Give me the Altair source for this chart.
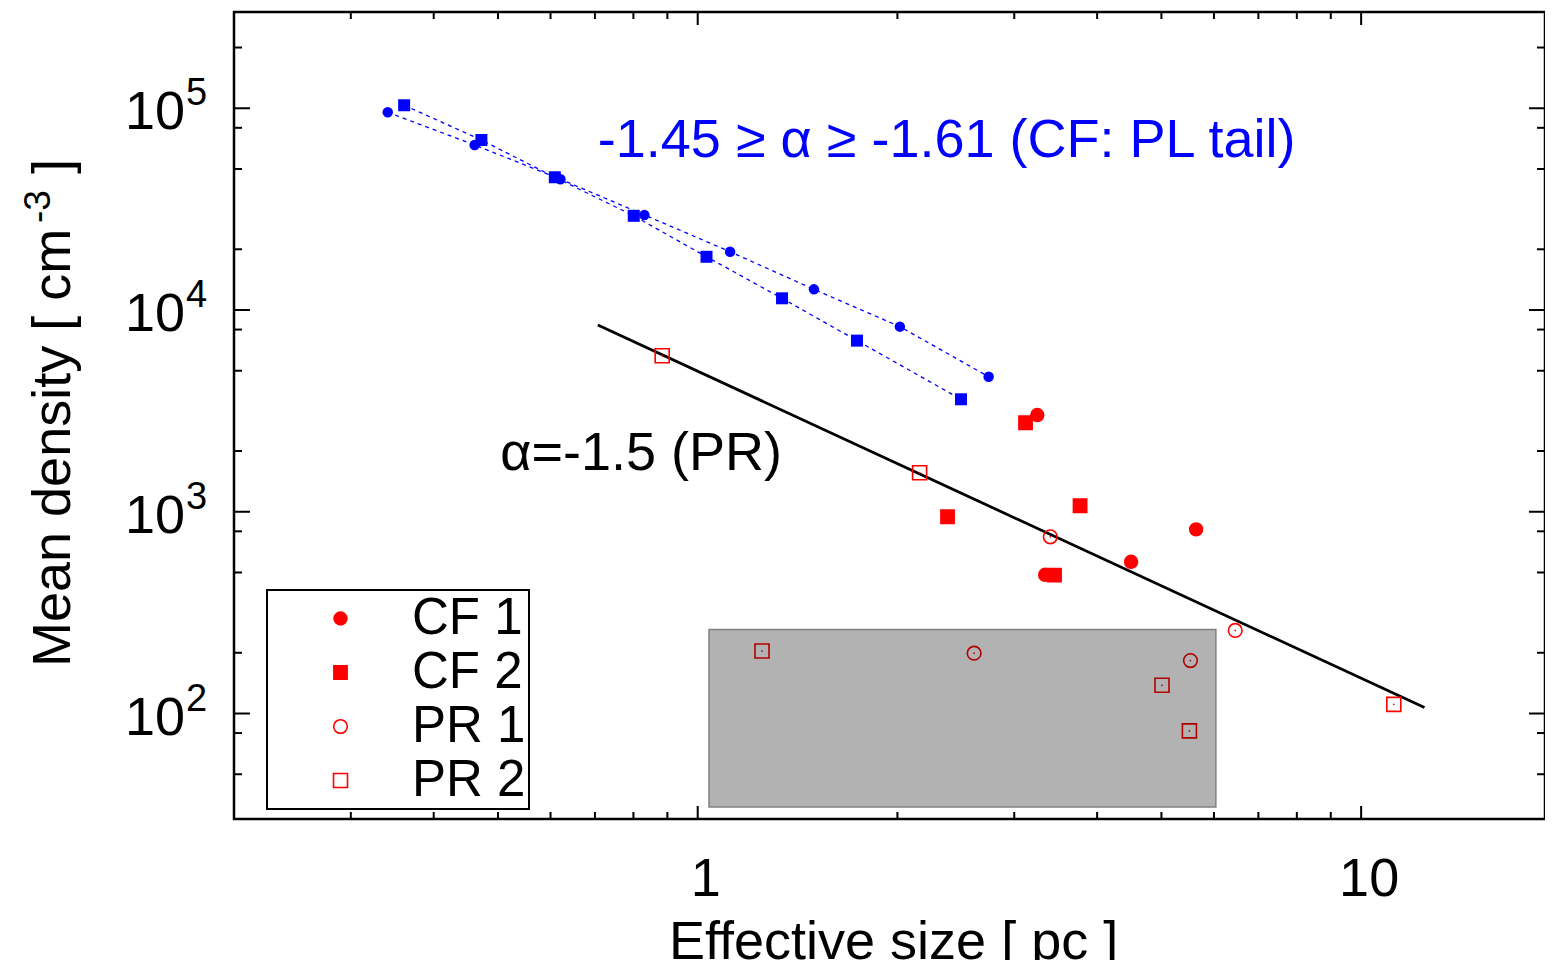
import altair as alt
import pandas as pd

# ---------------- data ----------------
# power-law-tail points (blue, connected)
pl_cf1_size = [0.341, 0.461, 0.621, 0.831, 1.119, 1.497, 2.017, 2.745]
pl_cf1_dens = [9.55e4, 6.58e4, 4.45e4, 2.96e4, 1.945e4, 1.266e4, 8.27e3, 4.67e3]
pl_cf2_size = [0.361, 0.472, 0.609, 0.801, 1.031, 1.340, 1.738, 2.494]
pl_cf2_dens = [1.035e5, 6.96e4, 4.55e4, 2.93e4, 1.836e4, 1.143e4, 7.05e3, 3.61e3]

# red symbols
cf1_size = [3.25, 3.34, 4.50, 5.64]
cf1_dens = [3016, 487, 565, 818]
cf2_size = [3.12, 2.38, 3.45, 3.77]
cf2_dens = [2762, 945, 485, 1071]
pr1_size = [3.40, 6.46, 2.61, 5.53]
pr1_dens = [751, 258, 199, 183]
pr2_size = [0.884, 2.16, 11.2, 1.25, 5.01, 5.51]
pr2_dens = [5934, 1561, 111, 204, 138, 82]

series_names = ["CF 1", "CF 2", "PR 1", "PR 2"]

# alpha = -1.5 reference line (end points)
pr_fit_size = [0.707, 12.46]
pr_fit_dens = [8430, 107]

# shaded region
box_size = [1.04, 6.04]
box_dens = [34.4, 261]

# annotations
ann_text = ["-1.45 \u2265 \u03b1 \u2265 -1.61 (CF: PL tail)", "\u03b1=-1.5 (PR)"]
ann_size = [0.707, 0.504]
ann_dens = [5.74e4, 1609]
ann_color = ["#0000ff", "#000000"]

# axes
x_domain = [0.2, 18.93]
y_domain = [30, 3e5]
x_major = [1, 10]
x_major_labels = ["1", "10"]
x_minor = [0.3, 0.4, 0.5, 0.6, 0.7, 0.8, 0.9, 2, 3, 4, 5, 6, 7, 8, 9]
y_major = [1e2, 1e3, 1e4, 1e5]
y_major_exp = ["2", "3", "4", "5"]
y_minor = [50, 80, 200, 500, 800, 2e3, 5e3, 8e3, 2e4, 5e4, 8e4, 2e5]

# ---------------- chart ----------------
W, H = 1311, 807
FONT = "Liberation Sans"
FS = 54

xs = alt.Scale(type="log", domain=x_domain, nice=False)
ys = alt.Scale(type="log", domain=y_domain, nice=False)


def X(f):
    return alt.X(f, type="quantitative", scale=xs, axis=None)


def Y(f):
    return alt.Y(f, type="quantitative", scale=ys, axis=None)


pl1 = pd.DataFrame({"s": pl_cf1_size, "d": pl_cf1_dens})
pl2 = pd.DataFrame({"s": pl_cf2_size, "d": pl_cf2_dens})

red_rows = []
for name, ss, dd in zip(series_names, [cf1_size, cf2_size, pr1_size, pr2_size],
                        [cf1_dens, cf2_dens, pr1_dens, pr2_dens]):
    for s, d in zip(ss, dd):
        red_rows.append({"s": s, "d": d, "series": name})
red = pd.DataFrame(red_rows)
pr_only = red[red["series"].isin(["PR 1", "PR 2"])]

fit = pd.DataFrame({"s": pr_fit_size, "d": pr_fit_dens})
box = pd.DataFrame({"s0": [box_size[0]], "s1": [box_size[1]],
                    "d0": [box_dens[0]], "d1": [box_dens[1]]})
ann = pd.DataFrame({"s": ann_size, "d": ann_dens, "t": ann_text, "c": ann_color})

blue_lines = alt.layer(
    alt.Chart(pl1).mark_line(color="#0000ff", strokeDash=[4, 4], strokeWidth=1.3).encode(x=X("s"), y=Y("d")),
    alt.Chart(pl2).mark_line(color="#0000ff", strokeDash=[4, 4], strokeWidth=1.3).encode(x=X("s"), y=Y("d")),
)
blue_pts = alt.layer(
    alt.Chart(pl1).mark_point(shape="circle", filled=True, size=110, color="#0000ff", opacity=1).encode(x=X("s"), y=Y("d")),
    alt.Chart(pl2).mark_point(shape="square", filled=True, size=144, color="#0000ff", opacity=1).encode(x=X("s"), y=Y("d")),
)

fit_line = alt.Chart(fit).mark_line(color="black", strokeWidth=2.8).encode(x=X("s"), y=Y("d"))

legend = alt.Legend(orient="none", legendX=33, legendY=578, title=None,
                    strokeColor="black", fillColor="white",
                    padding=3, labelFont=FONT, labelFontSize=51, labelColor="black",
                    symbolOffset=45, labelOffset=46, rowPadding=2,
                    symbolStrokeWidth=1.6,
                    labelExpr="datum.label + '\u00a0'")

red_pts = alt.Chart(red).mark_point(strokeWidth=1.6, opacity=1).encode(
    x=X("s"), y=Y("d"),
    shape=alt.Shape("series:N", scale=alt.Scale(domain=series_names,
                                                range=["circle", "square", "circle", "square"]),
                    legend=legend),
    fill=alt.Fill("series:N", scale=alt.Scale(domain=series_names,
                                              range=["#ff0000", "#ff0000", "transparent", "transparent"]),
                  legend=legend),
    stroke=alt.Stroke("series:N", scale=alt.Scale(domain=series_names,
                                                  range=["#ff0000", "#ff0000", "#ff0000", "#ff0000"]),
                      legend=legend),
    size=alt.Size("series:N", scale=alt.Scale(domain=series_names, range=[165, 196, 165, 196]),
                  legend=legend),
)
dots = alt.Chart(pr_only).mark_point(shape="circle", filled=True, size=3, color="#ff0000", opacity=1).encode(
    x=X("s"), y=Y("d"))

shade = alt.Chart(box).mark_rect(fill="black", fillOpacity=0.3, stroke="#808080", strokeWidth=1.5).encode(
    x=X("s0"), x2="s1", y=Y("d0"), y2="d1")

annot = alt.Chart(ann).mark_text(align="left", baseline="alphabetic", fontSize=FS, font=FONT).encode(
    x=X("s"), y=Y("d"), text="t:N", color=alt.Color("c:N", scale=None))

# ticks (inward on all four sides)
xmaj = pd.DataFrame({"v": x_major, "t": x_major_labels})
xmin = pd.DataFrame({"v": x_minor})
ymaj = pd.DataFrame({"v": y_major, "b": ["10"] * len(y_major), "e": y_major_exp})
ymin = pd.DataFrame({"v": y_minor})

tick_style = dict(color="black", strokeWidth=2)
ticks = alt.layer(
    alt.Chart(xmaj).mark_rule(**tick_style).encode(x=X("v"), y=alt.value(H), y2=alt.value(H - 13)),
    alt.Chart(xmaj).mark_rule(**tick_style).encode(x=X("v"), y=alt.value(0), y2=alt.value(13)),
    alt.Chart(xmin).mark_rule(**tick_style).encode(x=X("v"), y=alt.value(H), y2=alt.value(H - 7)),
    alt.Chart(xmin).mark_rule(**tick_style).encode(x=X("v"), y=alt.value(0), y2=alt.value(7)),
    alt.Chart(ymaj).mark_rule(**tick_style).encode(y=Y("v"), x=alt.value(0), x2=alt.value(16)),
    alt.Chart(ymaj).mark_rule(**tick_style).encode(y=Y("v"), x=alt.value(W), x2=alt.value(W - 16)),
    alt.Chart(ymin).mark_rule(**tick_style).encode(y=Y("v"), x=alt.value(0), x2=alt.value(8)),
    alt.Chart(ymin).mark_rule(**tick_style).encode(y=Y("v"), x=alt.value(W), x2=alt.value(W - 8)),
)

labels = alt.layer(
    alt.Chart(xmaj).mark_text(fontSize=FS, font=FONT, align="center", baseline="alphabetic", dx=8).encode(
        x=X("v"), y=alt.value(H + 77), text="t:N"),
    alt.Chart(ymaj).mark_text(fontSize=FS, font=FONT, align="right", baseline="alphabetic", dy=21).encode(
        y=Y("v"), x=alt.value(-49), text="b:N"),
    alt.Chart(ymaj).mark_text(fontSize=38, font=FONT, align="left", baseline="alphabetic", dy=-3).encode(
        y=Y("v"), x=alt.value(-48), text="e:N"),
)

title_df = pd.DataFrame({"k": ["x", "y1", "y2", "y3"],
                         "t": ["Effective size [ pc ]", "Mean density [ cm", "-3", "]"]})
titles = alt.layer(
    alt.Chart(title_df).transform_filter(alt.datum.k == "x").mark_text(
        fontSize=FS, font=FONT, align="left", baseline="alphabetic").encode(
        x=alt.value(435), y=alt.value(947), text="t:N"),
    alt.Chart(title_df).transform_filter(alt.datum.k == "y1").mark_text(
        fontSize=FS, font=FONT, align="left", baseline="alphabetic", angle=270).encode(
        x=alt.value(-164), y=alt.value(655), text="t:N"),
    alt.Chart(title_df).transform_filter(alt.datum.k == "y2").mark_text(
        fontSize=37, font=FONT, align="left", baseline="alphabetic", angle=270).encode(
        x=alt.value(-184), y=alt.value(211), text="t:N"),
    alt.Chart(title_df).transform_filter(alt.datum.k == "y3").mark_text(
        fontSize=FS, font=FONT, align="left", baseline="alphabetic", angle=270).encode(
        x=alt.value(-164), y=alt.value(162), text="t:N"),
)

chart = alt.layer(
    blue_lines, fit_line, blue_pts, red_pts, dots, shade, annot, ticks, labels, titles
).properties(
    width=W, height=H,
    padding={"left": 226, "top": 4, "right": 0, "bottom": 141},
    autosize=alt.AutoSizeParams(type="none"),
).configure_view(stroke="black", strokeWidth=2.5).configure_legend(strokeWidth=2)

chart.save("out.html", embed_options={"renderer": "svg", "actions": False})
